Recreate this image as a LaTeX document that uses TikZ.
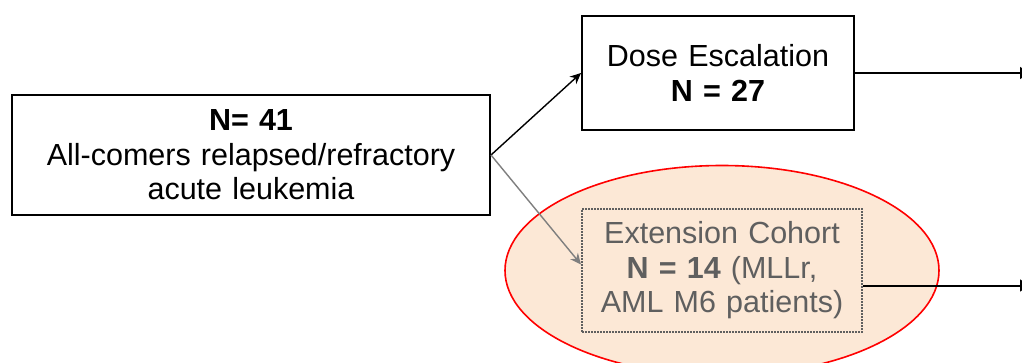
\documentclass[tikz,border=0pt]{standalone}
\usepackage{fontspec}
\setmainfont{Liberation Sans}
\usetikzlibrary{positioning,arrows.meta,shapes.geometric,backgrounds}
\definecolor{peach}{RGB}{252,232,214}
\definecolor{cohortgray}{RGB}{95,95,95}
\tikzstyle{wbox}=[rectangle, draw=black, fill=white, line width=2pt,
                  inner sep=2pt, text centered, font=\fontsize{30.5}{34.5}\selectfont]
\tikzstyle{cbox}=[rectangle, draw=cohortgray, fill=peach, line width=2pt,
                  densely dotted, inner sep=2pt, text centered, text=cohortgray,
                  font=\fontsize{30.5}{34.5}\selectfont]
\tikzstyle{hilite}=[ellipse, draw=red, fill=peach, line width=1.6pt,
                    minimum width=434pt, minimum height=210pt]
\tikzstyle{pline}=[line width=1.4pt, -{Stealth[length=11pt,width=10pt]}]
\tikzstyle{outline}=[line width=2pt, -{Latex[length=12pt,width=13pt]}]

\begin{document}
\begin{tikzpicture}
\useasboundingbox (0,0) rectangle (1022pt,362pt);

\node (ALL) [wbox, text width=474pt, minimum height=120pt] at (251pt,207pt)
 {\textbf{N= 41}\\All-comers relapsed/refractory\\acute leukemia};

\node (DOSE) [wbox, text width=268pt, minimum height=114pt,
 above right=-37pt and 90pt of ALL] {Dose Escalation\\\textbf{N = 27}};

\node (EXT) [cbox, text width=276pt, minimum height=123pt,
 below right=-8pt and 90pt of ALL]
 {Extension Cohort\\\textbf{N = 14} (MLLr,\\AML M6 patients)};

\begin{scope}[on background layer]
\node (MARK) [hilite] at (EXT.center) {};
\end{scope}

 \draw[pline] (ALL.east) -- (DOSE.west);
 \draw[pline, draw=cohortgray!80, fill=cohortgray!80] (ALL.east) -- ([yshift=6pt]EXT.west);

\coordinate [right=177pt of DOSE.east] (DOSEOUT);
\coordinate [below=15pt of EXT.east] (EXTSTART);
\coordinate [right=169pt of EXTSTART] (EXTOUT);
 \draw[outline] (DOSE.east) -- (DOSEOUT);
 \draw[outline] (EXTSTART) -- (EXTOUT);

\end{tikzpicture}
\end{document}
